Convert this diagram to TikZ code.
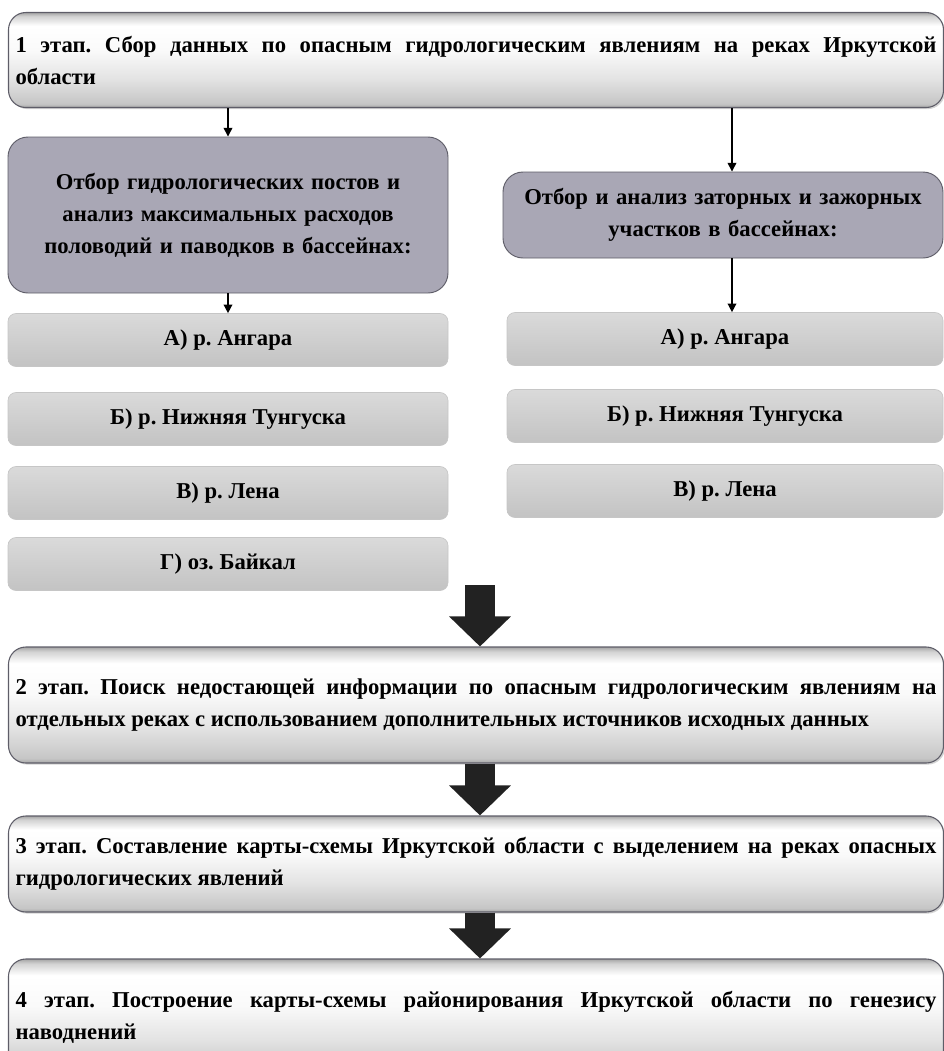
\documentclass[tikz,border=0pt]{standalone}
\usepackage{fontspec}
\setmainfont{Liberation Serif}
\usetikzlibrary{arrows.meta,shadows}

\definecolor{stepgray}{RGB}{169,167,181}
\definecolor{stepedge}{RGB}{94,93,104}
\definecolor{listtop}{RGB}{218,218,218}
\definecolor{listbot}{RGB}{195,195,195}
\definecolor{arrowdark}{RGB}{34,34,34}
\pgfdeclareverticalshading{stageshade}{100bp}{color(0bp)=(gray!70); color(25bp)=(gray!70);
  color(27bp)=(gray!45); color(40bp)=(gray!22); color(55bp)=(gray!4); color(68bp)=(white);
  color(73bp)=(gray!35); color(75bp)=(gray!70); color(100bp)=(gray!70)}
\frenchspacing

\begin{document}
\begin{tikzpicture}[x=0.75pt,y=-0.75pt,
  font=\fontsize{17}{24}\selectfont\bfseries,
  stagebox/.style={draw=stepedge, line width=0.8pt, rounded corners=13pt, shading=stageshade,
    drop shadow={shadow xshift=1.2pt, shadow yshift=-1.2pt, opacity=0.35},
    text width=690.75pt, inner xsep=5.25pt, align=justify},
  greybox/.style={draw=stepedge, line width=0.7pt, rounded corners=15pt, fill=stepgray,
    text width=320pt, inner xsep=5pt, align=center},
  listbox/.style={draw=gray!45, line width=0.5pt, rounded corners=6pt,
    top color=listtop, bottom color=listbot, minimum height=39.75pt, align=center},
  thinarrow/.style={-{Triangle[length=6.5pt,width=6.5pt]}, line width=1.1pt},
  bigarrow/.style={-{Triangle[length=22.5pt,width=45pt]}, line width=22.5pt, draw=arrowdark}]
\useasboundingbox (0,0) rectangle (944,1051);
%% nodes
\node[stagebox, minimum height=71.25pt] (s1) at (476,60)
  {1 этап. Сбор данных по опасным гидрологическим явлениям на реках Иркутской\linebreak области};
\node[greybox, minimum height=117pt] (gl) at (228,215)
  {Отбор гидрологических постов и\\ анализ максимальных расходов\\ половодий и паводков в бассейнах:};
\node[greybox, minimum height=64.5pt] (gr) at (723,215)
  {Отбор и анализ заторных и зажорных\\ участков в бассейнах:};
\node[listbox, minimum width=330pt] (la) at (228,340) {А) р. Ангара};
\node[listbox, minimum width=330pt] (lb) at (228,419) {Б) р. Нижняя Тунгуска};
\node[listbox, minimum width=330pt] (lc) at (228,493) {В) р. Лена};
\node[listbox, minimum width=330pt] (ld) at (228,564) {Г) оз. Байкал};
\node[listbox, minimum width=327pt] (ra) at (725,339) {А) р. Ангара};
\node[listbox, minimum width=327pt] (rb) at (725,416) {Б) р. Нижняя Тунгуска};
\node[listbox, minimum width=327pt] (rc) at (725,491) {В) р. Лена};
\node[stagebox, minimum height=87pt] (s2) at (476,705)
  {2 этап. Поиск недостающей информации по опасным гидрологическим явлениям на\linebreak
   отдельных реках с использованием дополнительных источников исходных данных};
\node[stagebox, minimum height=72pt] (s3) at (476,864)
  {3 этап. Составление карты-схемы Иркутской области с выделением на реках опасных\linebreak
   гидрологических явлений};
\node[stagebox, minimum height=87pt] (s4) at (476,1017)
  {4 этап. Построение карты-схемы районирования Иркутской области по генезису\linebreak
   наводнений};
\coordinate (top1) at (480,585);
%%% edges
\draw[thinarrow] (s1.south -| gl.north) -- (gl.north);
\draw[thinarrow] ([xshift=6.75pt]gr.north |- s1.south) -- ([xshift=6.75pt]gr.north);
\draw[thinarrow] (gl.south) -- (gl.south |- la.north);
\draw[thinarrow] ([xshift=6.75pt]gr.south) -- ([xshift=6.75pt]gr.south |- ra.north);
\draw[bigarrow] (top1) -- (top1 |- s2.north);
\draw[bigarrow] (top1 |- s2.south) -- (top1 |- s3.north);
\draw[bigarrow] (top1 |- s3.south) -- (top1 |- s4.north);
\end{tikzpicture}
\end{document}
